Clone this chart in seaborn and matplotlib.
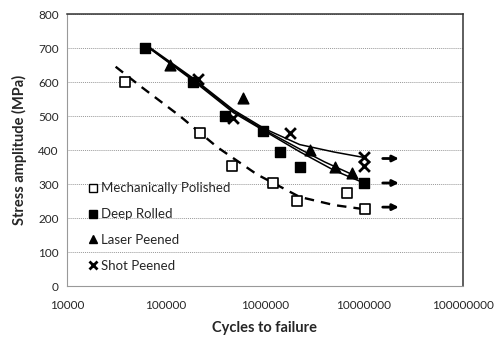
import numpy as np
import pandas as pd
import matplotlib
matplotlib.use("Agg")
import matplotlib.pyplot as plt
from matplotlib.lines import Line2D
import seaborn as sns

# ---- data ----
mp_cycles = [38500, 220000, 464000, 1200000, 2100000, 6700000, 10200000]
mp_stress = [600, 450, 353, 303, 250, 274, 226]
dr_cycles = [61000, 188000, 395000, 955000, 1420000, 2260000, 10000000]
dr_stress = [700, 600, 500, 455, 395, 350, 303]
lp_cycles = [110000, 600000, 2850000, 5100000, 7600000]
lp_stress = [650, 553, 400, 350, 332]
sp_cycles = [210000, 475000, 1790000, 10000000, 10000000]
sp_stress = [610, 494, 450, 380, 352]

# trend curves (cycles, stress)
mp_trend_cycles = [31000, 55000, 138000, 331000, 832000, 2240000, 5000000, 10000000]
mp_trend_stress = [645, 588, 500, 408, 328, 262, 238, 226]
dr_trend_cycles = [64000, 186000, 479000, 1000000, 2240000, 5000000, 10000000]
dr_trend_stress = [705, 605, 510, 455, 395, 340, 303]
lp_trend_cycles = [64000, 186000, 479000, 1000000, 2240000, 4000000, 7600000]
lp_trend_stress = [705, 609, 514, 458, 403, 365, 328]
sp_trend_cycles = [64000, 186000, 479000, 1000000, 2240000, 5000000, 10000000]
sp_trend_stress = [708, 612, 518, 462, 416, 394, 378]

series_names = ["Mechanically Polished", "Deep Rolled", "Laser Peened", "Shot Peened"]
runout_stress = [375, 303, 232]
runout_from, runout_to = 14500000, 24000000

x_ticks = [10000, 100000, 1000000, 10000000, 100000000]
y_ticks = list(range(0, 900, 100))

sns.set_style("white")
plt.rcParams['font.family'] = ['Lato', 'DejaVu Sans']

df = pd.concat([
    pd.DataFrame({"cycles": mp_cycles, "stress": mp_stress, "series": series_names[0]}),
    pd.DataFrame({"cycles": dr_cycles, "stress": dr_stress, "series": series_names[1]}),
    pd.DataFrame({"cycles": lp_cycles, "stress": lp_stress, "series": series_names[2]}),
    pd.DataFrame({"cycles": sp_cycles, "stress": sp_stress, "series": series_names[3]}),
])
trend = pd.concat([
    pd.DataFrame({"cycles": mp_trend_cycles, "stress": mp_trend_stress, "series": series_names[0]}),
    pd.DataFrame({"cycles": dr_trend_cycles, "stress": dr_trend_stress, "series": series_names[1]}),
    pd.DataFrame({"cycles": lp_trend_cycles, "stress": lp_trend_stress, "series": series_names[2]}),
    pd.DataFrame({"cycles": sp_trend_cycles, "stress": sp_trend_stress, "series": series_names[3]}),
])

fig = plt.figure(figsize=(4.98, 3.39), dpi=100)
ax = fig.add_axes([0.1345, 0.1563, 0.7952, 0.8024])

sns.lineplot(data=trend[trend.series == series_names[0]], x="cycles", y="stress",
             color="black", lw=1.7, ax=ax, legend=False, linestyle=(0, (4, 3)))
for name in series_names[1:]:
    sns.lineplot(data=trend[trend.series == name], x="cycles", y="stress",
                 color="black", lw=1.1, ax=ax, legend=False)

# markers
sub = df[df.series == series_names[0]]
ax.scatter(sub.cycles, sub.stress, marker="s", s=60, facecolor="white", edgecolor="black", lw=1.2, zorder=3)
sub = df[df.series == series_names[1]]
ax.scatter(sub.cycles, sub.stress, marker="s", s=60, color="black", zorder=3)
sub = df[df.series == series_names[2]]
ax.scatter(sub.cycles, sub.stress, marker="^", s=60, color="black", zorder=3)
sub = df[df.series == series_names[3]]
ax.scatter(sub.cycles, sub.stress, marker="x", s=60, color="black", lw=2, zorder=3)

# run-out arrows
for s in runout_stress:
    ax.annotate("", xy=(runout_to, s), xytext=(runout_from, s),
                arrowprops=dict(arrowstyle="-|>", color="black", lw=2, mutation_scale=9))

ax.set_xscale("log")
ax.set_xlim(10000, 100000000)
ax.set_ylim(0, 800)
ax.set_xticks(x_ticks)
ax.set_xticklabels([str(t) for t in x_ticks])
ax.minorticks_off()
ax.set_yticks(y_ticks)
ax.set_yticklabels([str(t) for t in y_ticks])
ax.tick_params(axis="both", labelsize=8.5, length=2, width=0.6, color="#888888", pad=4)
ax.tick_params(axis="x", pad=8)

ax.yaxis.grid(True, color="#999999", linestyle=(0, (1, 1)), lw=0.7)
ax.xaxis.grid(False)
for side in ["top", "right"]:
    ax.spines[side].set_color("#333333")
    ax.spines[side].set_linewidth(1.1)
for side in ["left", "bottom"]:
    ax.spines[side].set_color("#999999")
    ax.spines[side].set_linestyle((0, (1, 1)))
    ax.spines[side].set_linewidth(0.8)

ax.set_xlabel("Cycles to failure", fontsize=10.5, fontweight="bold", labelpad=7)
ax.set_ylabel("Stress amplitude (MPa)", fontsize=10.5, fontweight="bold", labelpad=8)

handles = [
    Line2D([], [], ls="", marker="s", ms=6, mfc="white", mec="black", mew=1),
    Line2D([], [], ls="", marker="s", ms=6, color="black"),
    Line2D([], [], ls="", marker="^", ms=6, color="black"),
    Line2D([], [], ls="", marker="x", ms=6, color="black", mew=2),
]
ax.legend(handles, series_names, loc="lower left", bbox_to_anchor=(0.02, 0.008),
          frameon=False, fontsize=9.5, handletextpad=0.05, labelspacing=1.05,
          handlelength=1.0, borderaxespad=0.5)

fig.savefig("out.png", dpi=100)
